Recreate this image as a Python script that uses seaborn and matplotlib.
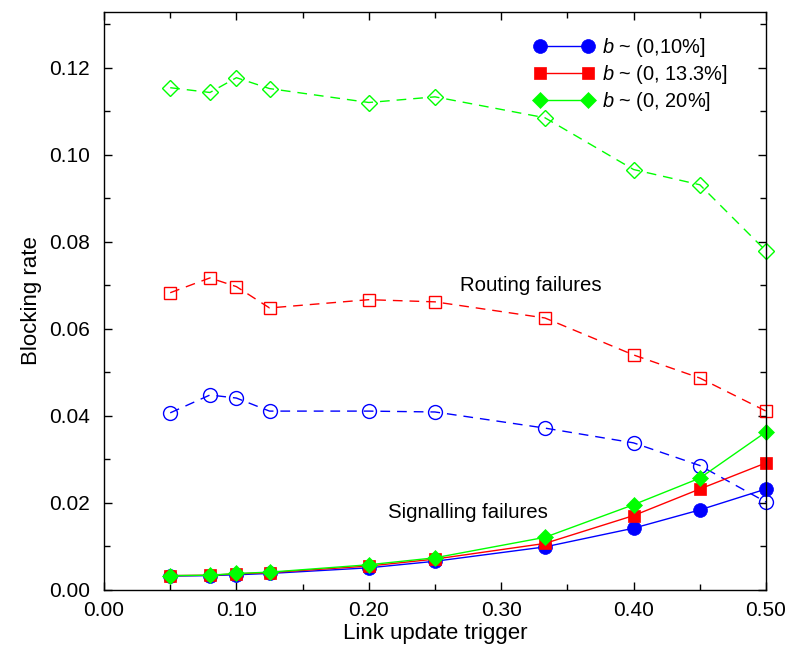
import numpy as np
import pandas as pd
import matplotlib
matplotlib.use("Agg")
import matplotlib.pyplot as plt
from matplotlib.ticker import MultipleLocator, FormatStrFormatter
import seaborn as sns

sns.set_style("ticks")
plt.rcParams['font.family'] = ['Liberation Sans', 'DejaVu Sans']
plt.rcParams['mathtext.fontset'] = 'custom'
plt.rcParams['mathtext.it'] = 'Liberation Sans:italic'
plt.rcParams['mathtext.rm'] = 'Liberation Sans'
plt.rcParams['text.color'] = 'black'
plt.rcParams['axes.labelcolor'] = 'black'

#%% DATA
trigger = [0.05, 0.08, 0.10, 0.125, 0.20, 0.25, 0.333, 0.40, 0.45, 0.50]

# routing failures (hollow markers, dashed)
route_10 = [0.0407, 0.0448, 0.0441, 0.0411, 0.0411, 0.0409, 0.0372, 0.0338, 0.0286, 0.0202]
route_13 = [0.0683, 0.0717, 0.0697, 0.0648, 0.0667, 0.0662, 0.0625, 0.0540, 0.0487, 0.0411]
route_20 = [0.1154, 0.1143, 0.1177, 0.1152, 0.1120, 0.1133, 0.1085, 0.0966, 0.0931, 0.0779]

# signalling failures (filled markers, solid)
sig_10 = [0.0032, 0.0033, 0.0035, 0.0038, 0.0051, 0.0066, 0.0099, 0.0142, 0.0184, 0.0232]
sig_13 = [0.0033, 0.0034, 0.0037, 0.0040, 0.0055, 0.0071, 0.0107, 0.0171, 0.0232, 0.0292]
sig_20 = [0.0033, 0.0034, 0.0038, 0.0041, 0.0058, 0.0074, 0.0121, 0.0196, 0.0257, 0.0363]

labels = [r"$b$ ~ (0,10%]", r"$b$ ~ (0, 13.3%]", r"$b$ ~ (0, 20%]"]
colors = ["#0000ff", "#ff0000", "#00ff00"]
markers = ["o", "s", "D"]
msizes = [10, 8.5, 8.5]

#%% PLOT
fig = plt.figure(figsize=(7.91, 6.47), dpi=100)
ax = fig.add_axes([0.1315, 0.0881, 0.8369, 0.8934])

dash = (0, (7, 5))
for ys, c, m, ms in zip([route_10, route_13, route_20], colors, markers, msizes):
    sns.lineplot(x=trigger, y=ys, ax=ax, color=c, marker=m, markersize=ms,
                 markerfacecolor="none", markeredgecolor=c, markeredgewidth=1,
                 linewidth=1, linestyle=dash, errorbar=None, sort=False,
                 clip_on=False)

handles = []
for ys, c, m, ms, lab in zip([sig_10, sig_13, sig_20], colors, markers, msizes, labels):
    sns.lineplot(x=trigger, y=ys, ax=ax, color=c, marker=m, markersize=ms,
                 markerfacecolor=c, markeredgecolor=c, markeredgewidth=0.5,
                 linewidth=1, errorbar=None, sort=False, clip_on=False)
    handles.append(ax.get_lines()[-1])

ax.legend(handles, labels, loc="upper right", frameon=False, numpoints=2,
          handlelength=3.0, fontsize=14.4, bbox_to_anchor=(0.97, 0.99),
          labelspacing=0.2, handletextpad=0.4)

ax.text(0.322, 0.0699, "Routing failures", fontsize=14.7, ha="center", va="center")
ax.text(0.2746, 0.0177, "Signalling failures", fontsize=14.7, ha="center", va="center")

ax.set_xlim(0, 0.5)
ax.set_ylim(0, 0.1328)
ax.xaxis.set_major_locator(MultipleLocator(0.1))
ax.xaxis.set_minor_locator(MultipleLocator(0.05))
ax.yaxis.set_major_locator(MultipleLocator(0.02))
ax.yaxis.set_minor_locator(MultipleLocator(0.01))
ax.xaxis.set_major_formatter(FormatStrFormatter("%.2f"))
ax.yaxis.set_major_formatter(FormatStrFormatter("%.2f"))
ax.tick_params(which="both", direction="in", top=True, right=True,
               labelsize=15, colors="black", width=1)
ax.tick_params(which="major", length=6)
ax.tick_params(axis="y", which="major", pad=10)
ax.tick_params(axis="x", which="major", pad=8)
ax.tick_params(which="minor", length=4)
for s in ax.spines.values():
    s.set_color("black")
    s.set_linewidth(1)

ax.set_xlabel("Link update trigger", fontsize=16, va="center")
ax.xaxis.set_label_coords(0.5, -0.0755)
ax.set_ylabel("Blocking rate", fontsize=16, labelpad=5)

fig.savefig("out.png", dpi=100)
